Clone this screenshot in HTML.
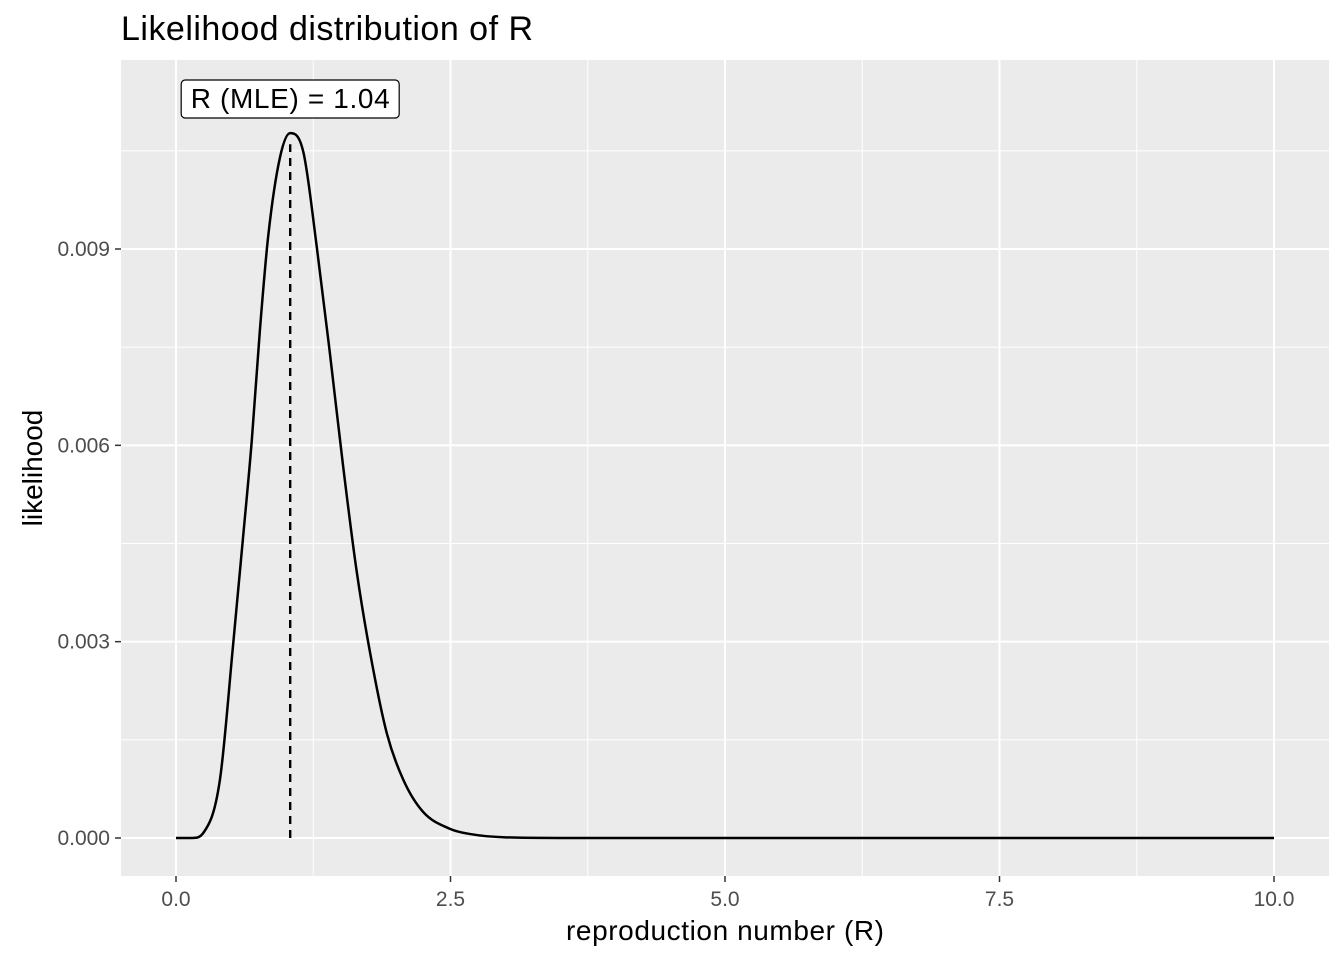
<!DOCTYPE html>
<html><head><meta charset="utf-8"><style>
body{margin:0;background:#fff;font-family:"Liberation Sans",sans-serif}
</style></head><body>
<svg width="1344" height="960" xmlns="http://www.w3.org/2000/svg" font-family="Liberation Sans, sans-serif">
<text x="121" y="40" font-size="34" fill="#000" textLength="412">Likelihood distribution of R</text>
<rect x="121" y="60" width="1208" height="816" fill="#ebebeb"/>
<g id="grid"></g>
<g id="axes"></g>
<path id="curve" fill="none" stroke="#000" stroke-width="2.5" stroke-linejoin="round"/>
<line id="mle" stroke="#000" stroke-width="2.4" stroke-dasharray="8,6"/>
<g>
<rect id="lblbox" x="181" y="80" width="218" height="38" rx="4" fill="#fff" stroke="#000" stroke-width="1.2"/>
<text id="lbl" x="290" y="108" font-size="28" text-anchor="middle" textLength="199">R (MLE) = 1.04</text>
</g>
<text x="725" y="940" font-size="28" text-anchor="middle" textLength="318">reproduction number (R)</text>
<text transform="translate(42,468) rotate(-90)" font-size="28" text-anchor="middle">likelihood</text>
</svg>
<script>
const rValues=[0,0.15,0.25,0.40,0.52,0.61,0.69,0.765,0.84,0.947,1.04,1.16,1.28,1.40,1.52,1.645,1.77,1.92,2.07,2.25,2.495,2.68,3.0,3.5,5,10];
const likelihood=[0,0,0.00008,0.00089,0.00295,0.00458,0.00607,0.00778,0.0092,0.0104,0.01077,0.01048,0.00906,0.00743,0.00571,0.00408,0.00281,0.0016,0.00089,0.0004,0.00014,0.00006,0.00001,0,0,0];
const xTicks=[0,2.5,5,7.5,10];
const xTickLabels=["0.0","2.5","5.0","7.5","10.0"];
const yTicks=[0,0.003,0.006,0.009];
const yTickLabels=["0.000","0.003","0.006","0.009"];
const mle=1.04;
const X=v=>176+v*109.8;
const Y=v=>838-v*65444;
const NS="http://www.w3.org/2000/svg";
function mk(tag,attrs,parent){const e=document.createElementNS(NS,tag);for(const k in attrs)e.setAttribute(k,attrs[k]);parent.appendChild(e);return e;}
const grid=document.getElementById('grid'),axes=document.getElementById('axes');
for(let i=0;i<xTicks.length;i++){
 if(i<xTicks.length-1){const m=(xTicks[i]+xTicks[i+1])/2;const l=mk('line',{x1:X(m),x2:X(m),y1:60,y2:876,stroke:'#fff','stroke-width':1},grid);
 
 }
 const g=mk('line',{x1:X(xTicks[i]),x2:X(xTicks[i]),y1:60,y2:876,stroke:'#fff','stroke-width':2},grid);
 
 
 mk('line',{x1:X(xTicks[i]),x2:X(xTicks[i]),y1:876,y2:882,stroke:'#333','stroke-width':1.5},axes);
 const t=mk('text',{x:X(xTicks[i]),y:906,'font-size':21,fill:'#4d4d4d','text-anchor':'middle'},axes);t.textContent=xTickLabels[i];
 
 
}
const yMinor=[0.0015,0.0045,0.0075,0.0105];
for(const m of yMinor){const l=mk('line',{x1:121,x2:1329,y1:Y(m),y2:Y(m),stroke:'#fff','stroke-width':1},grid);
 
 }
for(let i=0;i<yTicks.length;i++){
 const g=mk('line',{x1:121,x2:1329,y1:Y(yTicks[i]),y2:Y(yTicks[i]),stroke:'#fff','stroke-width':2},grid);
 
 
 mk('line',{x1:115,x2:121,y1:Y(yTicks[i]),y2:Y(yTicks[i]),stroke:'#333','stroke-width':1.5},axes);
 const t=mk('text',{x:110,y:Y(yTicks[i])+7,'font-size':21,fill:'#4d4d4d','text-anchor':'end'},axes);t.textContent=yTickLabels[i];
 
 
}
// Fritsch-Carlson monotone cubic
const px=rValues.map(X),py=likelihood.map(Y),n=px.length;
const d=[],m=[];
for(let i=0;i<n-1;i++)d.push((py[i+1]-py[i])/(px[i+1]-px[i]));
m[0]=d[0];m[n-1]=d[n-2];
for(let i=1;i<n-1;i++)m[i]=(d[i-1]*d[i]<=0)?0:(d[i-1]+d[i])/2;
for(let i=0;i<n-1;i++){
 if(d[i]===0){m[i]=0;m[i+1]=0;continue;}
 const a=m[i]/d[i],b=m[i+1]/d[i],s=a*a+b*b;
 if(s>9){const t=3/Math.sqrt(s);m[i]=t*a*d[i];m[i+1]=t*b*d[i];}
}
let p=`M${px[0]},${py[0]}`;
for(let i=0;i<n-1;i++){const h=(px[i+1]-px[i])/3;
 p+=` C${px[i]+h},${py[i]+m[i]*h} ${px[i+1]-h},${py[i+1]-m[i+1]*h} ${px[i+1]},${py[i+1]}`;}
document.getElementById('curve').setAttribute('d',p);
const ml=document.getElementById('mle');
ml.setAttribute('x1',X(mle));ml.setAttribute('x2',X(mle));ml.setAttribute('y1',Y(0));ml.setAttribute('y2',Y(0.0106));
document.getElementById('lbl').setAttribute('x',X(mle));
document.getElementById('lblbox').setAttribute('x',X(mle)-109);
</script>
</body></html>
